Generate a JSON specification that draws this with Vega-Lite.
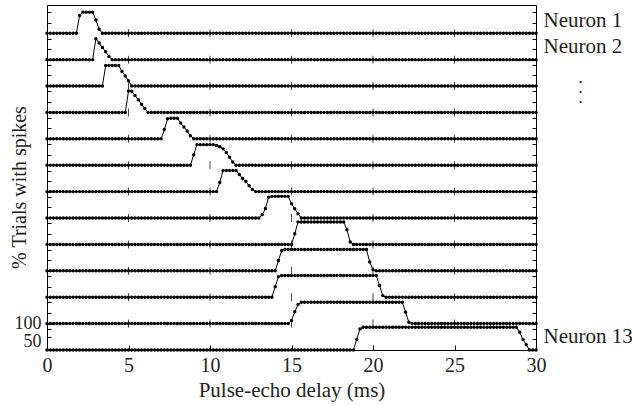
{
  "$schema": "https://vega.github.io/schema/vega-lite/v6.json",
  "width": 489,
  "height": 345,
  "autosize": {"type": "none"},
  "padding": {"left": 47, "top": 5, "right": 96, "bottom": 56},
  "data": {
    "values": "t,n1,n2,n3,n4,n5,n6,n7,n8,n9,n10,n11,n12,n13\n0,0,0,0,0,0,0,0,0,0,0,0,0,0\n0.2,0,0,0,0,0,0,0,0,0,0,0,0,0\n0.4,0,0,0,0,0,0,0,0,0,0,0,0,0\n0.6,0,0,0,0,0,0,0,0,0,0,0,0,0\n0.8,0,0,0,0,0,0,0,0,0,0,0,0,0\n1,0,0,0,0,0,0,0,0,0,0,0,0,0\n1.2,0,0,0,0,0,0,0,0,0,0,0,0,0\n1.4,0,0,0,0,0,0,0,0,0,0,0,0,0\n1.6,0,0,0,0,0,0,0,0,0,0,0,0,0\n1.8,0,0,0,0,0,0,0,0,0,0,0,0,0\n2,67,0,0,0,0,0,0,0,0,0,0,0,0\n2.2,80,0,0,0,0,0,0,0,0,0,0,0,0\n2.4,80,0,0,0,0,0,0,0,0,0,0,0,0\n2.6,80,0,0,0,0,0,0,0,0,0,0,0,0\n2.8,80,0,0,0,0,0,0,0,0,0,0,0,0\n3,50,79,0,0,0,0,0,0,0,0,0,0,0\n3.2,15,63,0,0,0,0,0,0,0,0,0,0,0\n3.4,0,46,0,0,0,0,0,0,0,0,0,0,0\n3.6,0,30,78,0,0,0,0,0,0,0,0,0,0\n3.8,0,12,78,0,0,0,0,0,0,0,0,0,0\n4,0,0,78,0,0,0,0,0,0,0,0,0,0\n4.2,0,0,78,0,0,0,0,0,0,0,0,0,0\n4.4,0,0,78,0,0,0,0,0,0,0,0,0,0\n4.6,0,0,55,0,0,0,0,0,0,0,0,0,0\n4.8,0,0,38,0,0,0,0,0,0,0,0,0,0\n5,0,0,20,81,0,0,0,0,0,0,0,0,0\n5.2,0,0,0,80,0,0,0,0,0,0,0,0,0\n5.4,0,0,0,64,0,0,0,0,0,0,0,0,0\n5.6,0,0,0,48,0,0,0,0,0,0,0,0,0\n5.8,0,0,0,31,0,0,0,0,0,0,0,0,0\n6,0,0,0,15,0,0,0,0,0,0,0,0,0\n6.2,0,0,0,0,0,0,0,0,0,0,0,0,0\n6.4,0,0,0,0,0,0,0,0,0,0,0,0,0\n6.6,0,0,0,0,0,0,0,0,0,0,0,0,0\n6.8,0,0,0,0,0,0,0,0,0,0,0,0,0\n7,0,0,0,0,0,0,0,0,0,0,0,0,0\n7.2,0,0,0,0,35,0,0,0,0,0,0,0,0\n7.4,0,0,0,0,76,0,0,0,0,0,0,0,0\n7.6,0,0,0,0,78,0,0,0,0,0,0,0,0\n7.8,0,0,0,0,78,0,0,0,0,0,0,0,0\n8,0,0,0,0,78,0,0,0,0,0,0,0,0\n8.2,0,0,0,0,60,0,0,0,0,0,0,0,0\n8.4,0,0,0,0,45,0,0,0,0,0,0,0,0\n8.6,0,0,0,0,30,0,0,0,0,0,0,0,0\n8.8,0,0,0,0,12,0,0,0,0,0,0,0,0\n9,0,0,0,0,0,40,0,0,0,0,0,0,0\n9.2,0,0,0,0,0,78,0,0,0,0,0,0,0\n9.4,0,0,0,0,0,78,0,0,0,0,0,0,0\n9.6,0,0,0,0,0,78,0,0,0,0,0,0,0\n9.8,0,0,0,0,0,78,0,0,0,0,0,0,0\n10,0,0,0,0,0,78,0,0,0,0,0,0,0\n10.2,0,0,0,0,0,78,0,0,0,0,0,0,0\n10.4,0,0,0,0,0,75,0,0,0,0,0,0,0\n10.6,0,0,0,0,0,70,35,0,0,0,0,0,0\n10.8,0,0,0,0,0,62,80,0,0,0,0,0,0\n11,0,0,0,0,0,48,80,0,0,0,0,0,0\n11.2,0,0,0,0,0,30,80,0,0,0,0,0,0\n11.4,0,0,0,0,0,12,80,0,0,0,0,0,0\n11.6,0,0,0,0,0,0,80,0,0,0,0,0,0\n11.8,0,0,0,0,0,0,65,0,0,0,0,0,0\n12,0,0,0,0,0,0,50,0,0,0,0,0,0\n12.2,0,0,0,0,0,0,38,0,0,0,0,0,0\n12.4,0,0,0,0,0,0,22,0,0,0,0,0,0\n12.6,0,0,0,0,0,0,8,0,0,0,0,0,0\n12.8,0,0,0,0,0,0,0,0,0,0,0,0,0\n13,0,0,0,0,0,0,0,0,0,0,0,0,0\n13.2,0,0,0,0,0,0,0,12,0,0,0,0,0\n13.4,0,0,0,0,0,0,0,36,0,0,0,0,0\n13.6,0,0,0,0,0,0,0,79,0,0,0,0,0\n13.8,0,0,0,0,0,0,0,82,0,0,0,0,0\n14,0,0,0,0,0,0,0,82,0,0,40,0,0\n14.2,0,0,0,0,0,0,0,82,0,39,78,0,0\n14.4,0,0,0,0,0,0,0,82,0,77,82,0,0\n14.6,0,0,0,0,0,0,0,82,0,81,82,0,0\n14.8,0,0,0,0,0,0,0,82,0,81,82,0,0\n15,0,0,0,0,0,0,0,54,0,81,82,12,0\n15.2,0,0,0,0,0,0,0,35,40,81,82,45,0\n15.4,0,0,0,0,0,0,0,16,85,81,82,72,0\n15.6,0,0,0,0,0,0,0,0,85,81,82,81,0\n15.8,0,0,0,0,0,0,0,0,85,81,82,81,0\n16,0,0,0,0,0,0,0,0,85,81,82,81,0\n16.2,0,0,0,0,0,0,0,0,85,81,82,81,0\n16.4,0,0,0,0,0,0,0,0,85,81,82,81,0\n16.6,0,0,0,0,0,0,0,0,85,81,82,81,0\n16.8,0,0,0,0,0,0,0,0,85,81,82,81,0\n17,0,0,0,0,0,0,0,0,85,81,82,81,0\n17.2,0,0,0,0,0,0,0,0,85,81,82,81,0\n17.4,0,0,0,0,0,0,0,0,85,81,82,81,0\n17.6,0,0,0,0,0,0,0,0,85,81,82,81,0\n17.8,0,0,0,0,0,0,0,0,85,81,82,81,0\n18,0,0,0,0,0,0,0,0,85,81,82,81,0\n18.2,0,0,0,0,0,0,0,0,85,81,82,81,0\n18.4,0,0,0,0,0,0,0,0,56,81,82,81,0\n18.6,0,0,0,0,0,0,0,0,9,81,82,81,0\n18.8,0,0,0,0,0,0,0,0,0,81,82,81,0\n19,0,0,0,0,0,0,0,0,0,81,82,81,40\n19.2,0,0,0,0,0,0,0,0,0,81,82,81,80\n19.4,0,0,0,0,0,0,0,0,0,81,82,81,86\n19.6,0,0,0,0,0,0,0,0,0,81,82,81,86\n19.8,0,0,0,0,0,0,0,0,0,33,82,81,86\n20,0,0,0,0,0,0,0,0,0,4,82,81,86\n20.2,0,0,0,0,0,0,0,0,0,0,82,81,86\n20.4,0,0,0,0,0,0,0,0,0,0,44,81,86\n20.6,0,0,0,0,0,0,0,0,0,0,6,81,86\n20.8,0,0,0,0,0,0,0,0,0,0,0,81,86\n21,0,0,0,0,0,0,0,0,0,0,0,81,86\n21.2,0,0,0,0,0,0,0,0,0,0,0,81,86\n21.4,0,0,0,0,0,0,0,0,0,0,0,81,86\n21.6,0,0,0,0,0,0,0,0,0,0,0,81,86\n21.8,0,0,0,0,0,0,0,0,0,0,0,81,86\n22,0,0,0,0,0,0,0,0,0,0,0,43,86\n22.2,0,0,0,0,0,0,0,0,0,0,0,5,86\n22.4,0,0,0,0,0,0,0,0,0,0,0,0,86\n22.6,0,0,0,0,0,0,0,0,0,0,0,0,86\n22.8,0,0,0,0,0,0,0,0,0,0,0,0,86\n23,0,0,0,0,0,0,0,0,0,0,0,0,86\n23.2,0,0,0,0,0,0,0,0,0,0,0,0,86\n23.4,0,0,0,0,0,0,0,0,0,0,0,0,86\n23.6,0,0,0,0,0,0,0,0,0,0,0,0,86\n23.8,0,0,0,0,0,0,0,0,0,0,0,0,86\n24,0,0,0,0,0,0,0,0,0,0,0,0,86\n24.2,0,0,0,0,0,0,0,0,0,0,0,0,86\n24.4,0,0,0,0,0,0,0,0,0,0,0,0,86\n24.6,0,0,0,0,0,0,0,0,0,0,0,0,86\n24.8,0,0,0,0,0,0,0,0,0,0,0,0,86\n25,0,0,0,0,0,0,0,0,0,0,0,0,86\n25.2,0,0,0,0,0,0,0,0,0,0,0,0,86\n25.4,0,0,0,0,0,0,0,0,0,0,0,0,86\n25.6,0,0,0,0,0,0,0,0,0,0,0,0,86\n25.8,0,0,0,0,0,0,0,0,0,0,0,0,86\n26,0,0,0,0,0,0,0,0,0,0,0,0,86\n26.2,0,0,0,0,0,0,0,0,0,0,0,0,86\n26.4,0,0,0,0,0,0,0,0,0,0,0,0,86\n26.6,0,0,0,0,0,0,0,0,0,0,0,0,86\n26.8,0,0,0,0,0,0,0,0,0,0,0,0,86\n27,0,0,0,0,0,0,0,0,0,0,0,0,86\n27.2,0,0,0,0,0,0,0,0,0,0,0,0,86\n27.4,0,0,0,0,0,0,0,0,0,0,0,0,86\n27.6,0,0,0,0,0,0,0,0,0,0,0,0,86\n27.8,0,0,0,0,0,0,0,0,0,0,0,0,86\n28,0,0,0,0,0,0,0,0,0,0,0,0,86\n28.2,0,0,0,0,0,0,0,0,0,0,0,0,86\n28.4,0,0,0,0,0,0,0,0,0,0,0,0,86\n28.6,0,0,0,0,0,0,0,0,0,0,0,0,86\n28.8,0,0,0,0,0,0,0,0,0,0,0,0,86\n29,0,0,0,0,0,0,0,0,0,0,0,0,67\n29.2,0,0,0,0,0,0,0,0,0,0,0,0,40\n29.4,0,0,0,0,0,0,0,0,0,0,0,0,20\n29.6,0,0,0,0,0,0,0,0,0,0,0,0,0\n29.8,0,0,0,0,0,0,0,0,0,0,0,0,0\n30,0,0,0,0,0,0,0,0,0,0,0,0,0",
    "format": {"type": "csv", "parse": {"t": "number", "n1": "number", "n2": "number", "n3": "number", "n4": "number", "n5": "number", "n6": "number", "n7": "number", "n8": "number", "n9": "number", "n10": "number", "n11": "number", "n12": "number", "n13": "number"}}
  },
  "datasets": {
    "rows": [
      {"n": 1}, {"n": 2}, {"n": 3}, {"n": 4}, {"n": 5}, {"n": 6}, {"n": 7},
      {"n": 8}, {"n": 9}, {"n": 10}, {"n": 11}, {"n": 12}, {"n": 13}
    ]
  },
  "encoding": {
    "x": {
      "field": "t",
      "type": "quantitative",
      "scale": {"domain": [0, 30], "nice": false, "zero": false},
      "axis": {"values": [0, 5, 10, 15, 20, 25, 30], "title": "Pulse-echo delay (ms)", "tickSize": -5, "labelPadding": 10, "labelFlush": false, "titlePadding": 4, "labelFontSize": 20, "titleFontSize": 21, "grid": false}
    }
  },
  "layer": [
    {
      "encoding": {"y": {"field": "n1", "type": "quantitative", "scale": {"domain": [-1200, 107], "nice": false, "zero": false}, "axis": {"orient": "right", "values": [50], "labelExpr": "'Neuron 1'", "ticks": false, "domain": false, "labelPadding": 7, "labelFontSize": 21, "labelAlign": "left", "labelBaseline": "middle", "title": null}}},
      "layer": [
        {"data": {"name": "rows"}, "transform": [{"filter": "datum.n == 1"}], "mark": {"type": "rule", "color": "black", "strokeWidth": 1}, "encoding": {"x": {"datum": 0}, "x2": {"datum": 30}, "y": {"datum": 0}}},
        {"mark": {"type": "line", "color": "black", "strokeWidth": 1}},
        {"mark": {"type": "point", "filled": true, "color": "black", "size": 12, "opacity": 1}},
        {"transform": [{"filter": "datum.t % 5 == 0 && datum.t > 0 && datum.t < 30"}], "mark": {"type": "tick", "orient": "vertical", "color": "black", "size": 8, "thickness": 1}, "encoding": {"y": {"datum": 0}}}
      ]
    },
    {
      "encoding": {"y": {"field": "n2", "type": "quantitative", "scale": {"domain": [-1100, 207], "nice": false, "zero": false}, "axis": {"orient": "right", "values": [50], "labelExpr": "'Neuron 2'", "ticks": false, "domain": false, "labelPadding": 7, "labelFontSize": 21, "labelAlign": "left", "labelBaseline": "middle", "title": null}}},
      "layer": [
        {"data": {"name": "rows"}, "transform": [{"filter": "datum.n == 2"}], "mark": {"type": "rule", "color": "black", "strokeWidth": 1}, "encoding": {"x": {"datum": 0}, "x2": {"datum": 30}, "y": {"datum": 0}}},
        {"mark": {"type": "line", "color": "black", "strokeWidth": 1}},
        {"mark": {"type": "point", "filled": true, "color": "black", "size": 12, "opacity": 1}},
        {"transform": [{"filter": "datum.t % 5 == 0 && datum.t > 0 && datum.t < 30"}], "mark": {"type": "tick", "orient": "vertical", "color": "black", "size": 8, "thickness": 1}, "encoding": {"y": {"datum": 0}}}
      ]
    },
    {
      "encoding": {"y": {"field": "n3", "type": "quantitative", "scale": {"domain": [-1000, 307], "nice": false, "zero": false}, "axis": {"orient": "right", "values": [6], "labelExpr": "['•', '•', '•']", "ticks": false, "domain": false, "labelPadding": 44, "labelFontSize": 9, "labelLineHeight": 10, "labelAlign": "center", "labelBaseline": "alphabetic", "title": null}}},
      "layer": [
        {"data": {"name": "rows"}, "transform": [{"filter": "datum.n == 3"}], "mark": {"type": "rule", "color": "black", "strokeWidth": 1}, "encoding": {"x": {"datum": 0}, "x2": {"datum": 30}, "y": {"datum": 0}}},
        {"mark": {"type": "line", "color": "black", "strokeWidth": 1}},
        {"mark": {"type": "point", "filled": true, "color": "black", "size": 12, "opacity": 1}},
        {"transform": [{"filter": "datum.t % 5 == 0 && datum.t > 0 && datum.t < 30"}], "mark": {"type": "tick", "orient": "vertical", "color": "black", "size": 8, "thickness": 1}, "encoding": {"y": {"datum": 0}}}
      ]
    },
    {
      "encoding": {"y": {"field": "n4", "type": "quantitative", "scale": {"domain": [-900, 407], "nice": false, "zero": false}, "axis": null}},
      "layer": [
        {"data": {"name": "rows"}, "transform": [{"filter": "datum.n == 4"}], "mark": {"type": "rule", "color": "black", "strokeWidth": 1}, "encoding": {"x": {"datum": 0}, "x2": {"datum": 30}, "y": {"datum": 0}}},
        {"mark": {"type": "line", "color": "black", "strokeWidth": 1}},
        {"mark": {"type": "point", "filled": true, "color": "black", "size": 12, "opacity": 1}},
        {"transform": [{"filter": "datum.t % 5 == 0 && datum.t > 0 && datum.t < 30"}], "mark": {"type": "tick", "orient": "vertical", "color": "black", "size": 8, "thickness": 1}, "encoding": {"y": {"datum": 0}}}
      ]
    },
    {
      "encoding": {"y": {"field": "n5", "type": "quantitative", "scale": {"domain": [-800, 507], "nice": false, "zero": false}, "axis": null}},
      "layer": [
        {"data": {"name": "rows"}, "transform": [{"filter": "datum.n == 5"}], "mark": {"type": "rule", "color": "black", "strokeWidth": 1}, "encoding": {"x": {"datum": 0}, "x2": {"datum": 30}, "y": {"datum": 0}}},
        {"mark": {"type": "line", "color": "black", "strokeWidth": 1}},
        {"mark": {"type": "point", "filled": true, "color": "black", "size": 12, "opacity": 1}},
        {"transform": [{"filter": "datum.t % 5 == 0 && datum.t > 0 && datum.t < 30"}], "mark": {"type": "tick", "orient": "vertical", "color": "black", "size": 8, "thickness": 1}, "encoding": {"y": {"datum": 0}}}
      ]
    },
    {
      "encoding": {"y": {"field": "n6", "type": "quantitative", "scale": {"domain": [-700, 607], "nice": false, "zero": false}, "axis": null}},
      "layer": [
        {"data": {"name": "rows"}, "transform": [{"filter": "datum.n == 6"}], "mark": {"type": "rule", "color": "black", "strokeWidth": 1}, "encoding": {"x": {"datum": 0}, "x2": {"datum": 30}, "y": {"datum": 0}}},
        {"mark": {"type": "line", "color": "black", "strokeWidth": 1}},
        {"mark": {"type": "point", "filled": true, "color": "black", "size": 12, "opacity": 1}},
        {"transform": [{"filter": "datum.t % 5 == 0 && datum.t > 0 && datum.t < 30"}], "mark": {"type": "tick", "orient": "vertical", "color": "black", "size": 8, "thickness": 1}, "encoding": {"y": {"datum": 0}}}
      ]
    },
    {
      "encoding": {"y": {"field": "n7", "type": "quantitative", "scale": {"domain": [-600, 707], "nice": false, "zero": false}, "axis": null}},
      "layer": [
        {"data": {"name": "rows"}, "transform": [{"filter": "datum.n == 7"}], "mark": {"type": "rule", "color": "black", "strokeWidth": 1}, "encoding": {"x": {"datum": 0}, "x2": {"datum": 30}, "y": {"datum": 0}}},
        {"mark": {"type": "line", "color": "black", "strokeWidth": 1}},
        {"mark": {"type": "point", "filled": true, "color": "black", "size": 12, "opacity": 1}},
        {"transform": [{"filter": "datum.t % 5 == 0 && datum.t > 0 && datum.t < 30"}], "mark": {"type": "tick", "orient": "vertical", "color": "black", "size": 8, "thickness": 1}, "encoding": {"y": {"datum": 0}}}
      ]
    },
    {
      "encoding": {"y": {"field": "n8", "type": "quantitative", "scale": {"domain": [-500, 807], "nice": false, "zero": false}, "axis": null}},
      "layer": [
        {"data": {"name": "rows"}, "transform": [{"filter": "datum.n == 8"}], "mark": {"type": "rule", "color": "black", "strokeWidth": 1}, "encoding": {"x": {"datum": 0}, "x2": {"datum": 30}, "y": {"datum": 0}}},
        {"mark": {"type": "line", "color": "black", "strokeWidth": 1}},
        {"mark": {"type": "point", "filled": true, "color": "black", "size": 12, "opacity": 1}},
        {"transform": [{"filter": "datum.t % 5 == 0 && datum.t > 0 && datum.t < 30"}], "mark": {"type": "tick", "orient": "vertical", "color": "black", "size": 8, "thickness": 1}, "encoding": {"y": {"datum": 0}}}
      ]
    },
    {
      "encoding": {"y": {"field": "n9", "type": "quantitative", "scale": {"domain": [-400, 907], "nice": false, "zero": false}, "axis": null}},
      "layer": [
        {"data": {"name": "rows"}, "transform": [{"filter": "datum.n == 9"}], "mark": {"type": "rule", "color": "black", "strokeWidth": 1}, "encoding": {"x": {"datum": 0}, "x2": {"datum": 30}, "y": {"datum": 0}}},
        {"mark": {"type": "line", "color": "black", "strokeWidth": 1}},
        {"mark": {"type": "point", "filled": true, "color": "black", "size": 12, "opacity": 1}},
        {"transform": [{"filter": "datum.t % 5 == 0 && datum.t > 0 && datum.t < 30"}], "mark": {"type": "tick", "orient": "vertical", "color": "black", "size": 8, "thickness": 1}, "encoding": {"y": {"datum": 0}}}
      ]
    },
    {
      "encoding": {"y": {"field": "n10", "type": "quantitative", "scale": {"domain": [-300, 1007], "nice": false, "zero": false}, "axis": null}},
      "layer": [
        {"data": {"name": "rows"}, "transform": [{"filter": "datum.n == 10"}], "mark": {"type": "rule", "color": "black", "strokeWidth": 1}, "encoding": {"x": {"datum": 0}, "x2": {"datum": 30}, "y": {"datum": 0}}},
        {"mark": {"type": "line", "color": "black", "strokeWidth": 1}},
        {"mark": {"type": "point", "filled": true, "color": "black", "size": 12, "opacity": 1}},
        {"transform": [{"filter": "datum.t % 5 == 0 && datum.t > 0 && datum.t < 30"}], "mark": {"type": "tick", "orient": "vertical", "color": "black", "size": 8, "thickness": 1}, "encoding": {"y": {"datum": 0}}}
      ]
    },
    {
      "encoding": {"y": {"field": "n11", "type": "quantitative", "scale": {"domain": [-200, 1107], "nice": false, "zero": false}, "axis": {"orient": "right", "values": [-200, -160, -120, -100, -60, -20, 0, 40, 80, 100, 140, 180, 200, 240, 280, 300, 340, 380, 400, 440, 480, 500, 540, 580, 600, 640, 680, 700, 740, 780, 800, 840, 880, 900, 940, 980, 1000, 1040, 1080], "labels": false, "title": null, "tickSize": -4, "grid": false}}},
      "layer": [
        {"data": {"name": "rows"}, "transform": [{"filter": "datum.n == 11"}], "mark": {"type": "rule", "color": "black", "strokeWidth": 1}, "encoding": {"x": {"datum": 0}, "x2": {"datum": 30}, "y": {"datum": 0}}},
        {"mark": {"type": "line", "color": "black", "strokeWidth": 1}},
        {"mark": {"type": "point", "filled": true, "color": "black", "size": 12, "opacity": 1}},
        {"transform": [{"filter": "datum.t % 5 == 0 && datum.t > 0 && datum.t < 30"}], "mark": {"type": "tick", "orient": "vertical", "color": "black", "size": 8, "thickness": 1}, "encoding": {"y": {"datum": 0}}}
      ]
    },
    {
      "encoding": {"y": {"field": "n12", "type": "quantitative", "scale": {"domain": [-100, 1207], "nice": false, "zero": false}, "axis": {"orient": "right", "values": [-50], "labelExpr": "'Neuron 13'", "ticks": false, "domain": false, "labelPadding": 7, "labelFontSize": 21, "labelAlign": "left", "labelBaseline": "middle", "title": null}}},
      "layer": [
        {"data": {"name": "rows"}, "transform": [{"filter": "datum.n == 12"}], "mark": {"type": "rule", "color": "black", "strokeWidth": 1}, "encoding": {"x": {"datum": 0}, "x2": {"datum": 30}, "y": {"datum": 0}}},
        {"mark": {"type": "line", "color": "black", "strokeWidth": 1}},
        {"mark": {"type": "point", "filled": true, "color": "black", "size": 12, "opacity": 1}},
        {"transform": [{"filter": "datum.t % 5 == 0 && datum.t > 0 && datum.t < 30"}], "mark": {"type": "tick", "orient": "vertical", "color": "black", "size": 8, "thickness": 1}, "encoding": {"y": {"datum": 0}}}
      ]
    },
    {
      "encoding": {"y": {"field": "n13", "type": "quantitative", "scale": {"domain": [0, 1307], "nice": false, "zero": false}, "axis": {"orient": "left", "values": [0, 50, 80, 100, 140, 180, 200, 240, 280, 300, 340, 380, 400, 440, 480, 500, 540, 580, 600, 640, 680, 700, 740, 780, 800, 840, 880, 900, 940, 980, 1000, 1040, 1080, 1100, 1140, 1180, 1200, 1240, 1280], "labelExpr": "datum.value == 50 || datum.value == 100 ? datum.label : ''", "labelOverlap": false, "labelOffset": {"condition": {"test": "datum.value == 50", "value": 5}, "value": 0}, "title": "% Trials with spikes", "titleX": -18, "titleY": 182, "tickSize": -4, "labelPadding": 10, "labelFontSize": 18, "titleFontSize": 20, "grid": false}}},
      "layer": [
        {"data": {"name": "rows"}, "transform": [{"filter": "datum.n == 13"}], "mark": {"type": "rule", "color": "black", "strokeWidth": 1}, "encoding": {"x": {"datum": 0}, "x2": {"datum": 30}, "y": {"datum": 0}}},
        {"mark": {"type": "line", "color": "black", "strokeWidth": 1}},
        {"mark": {"type": "point", "filled": true, "color": "black", "size": 12, "opacity": 1}}
      ]
    }
  ],
  "resolve": {"scale": {"y": "independent"}, "axis": {"y": "independent"}},
  "config": {
    "font": "'Liberation Serif', 'DejaVu Serif', serif",
    "view": {"stroke": "black", "strokeWidth": 1},
    "axis": {"labelFont": "'Liberation Serif', 'DejaVu Serif', serif", "titleFont": "'Liberation Serif', 'DejaVu Serif', serif", "labelColor": "#231f20", "titleColor": "#231f20", "domainColor": "black", "tickColor": "black", "titleFontWeight": "normal", "grid": false}
  }
}
